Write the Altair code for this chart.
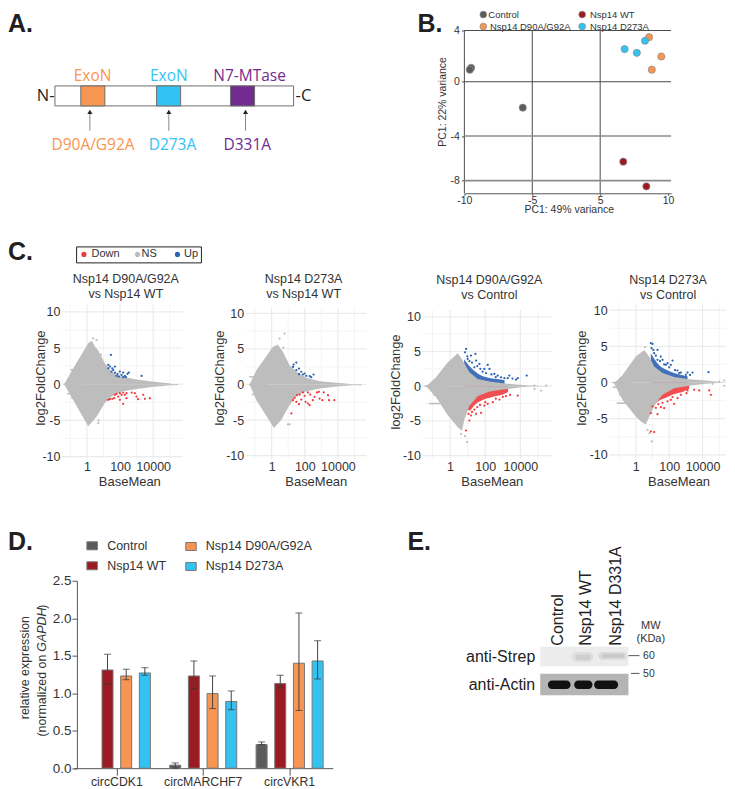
import altair as alt
import pandas as pd

FONT = "Liberation Sans"
INK = "#231f20"
COL = {"Control": "#5b5b5b", "Nsp14 WT": "#9b1b22", "Nsp14 D90A/G92A": "#f79552", "Nsp14 D273A": "#33c3f2"}
PURPLE = "#722b8e"

# ---------- A: domain map (residue positions)
bar_start = [1]
bar_end = [527]
dom_names = ["ExoN", "ExoN", "N7-MTase"]
dom_start = [58, 225, 388]
dom_end = [111, 278, 441]
dom_label_pos = [84, 252, 430]
dom_colors = [COL["Nsp14 D90A/G92A"], COL["Nsp14 D273A"], PURPLE]
mut_names = ["D90A/G92A", "D273A", "D331A"]
mut_pos = [78, 252, 421]
mut_label_pos = [85, 260, 425]

# ---------- B: PCA
pca_group = ["Control"] * 3 + ["Nsp14 WT"] * 2 + ["Nsp14 D90A/G92A"] * 3 + ["Nsp14 D273A"] * 3
pca_pc1 = [-9.5, -9.6, -5.7, 6.7, 8.4, 8.6, 9.5, 8.8, 6.8, 7.7, 8.3]
pca_pc2 = [1.09, 0.94, -1.91, -6.3, -8.5, 3.48, 1.97, 0.94, 2.55, 2.26, 3.2]

# ---------- C: MA plots, values in log10(BaseMean) and log2FoldChange
ma_titles = [
    ["Nsp14 D90A/G92A", "vs Nsp14 WT"], ["Nsp14 D273A", "vs Nsp14 WT"],
    ["Nsp14 D90A/G92A", "vs Control"], ["Nsp14 D273A", "vs Control"],
]
cloud_up = [
    [(-1.37, 0), (-0.82, 2.2), (0.08, 5.65), (0.3, 6.0), (0.48, 5.2), (0.68, 4.7), (1.08, 2.9), (1.5, 1.75), (2.1, 1.05), (2.9, 0.7), (3.9, 0.37), (4.9, 0.14), (5.5, -0.1)],
    [(-1.33, 0), (-0.92, 2.0), (0.08, 5.3), (0.38, 5.6), (0.68, 4.6), (1.08, 2.7), (1.5, 1.8), (2.1, 0.95), (2.9, 0.45), (3.9, 0.25), (4.9, 0.05), (5.4, -0.1)],
    [(-1.36, 0), (-0.8, 1.3), (-0.13, 3.45), (0.44, 4.75), (0.72, 3.7), (1.1, 2.0), (1.57, 1.05), (2.24, 0.67), (3.0, 0.43), (3.94, 0.2), (4.5, 0.1), (5.55, 0)],
    [(-1.3, -0.1), (-0.8, 1.05), (0.0, 3.6), (0.5, 4.5), (0.8, 3.6), (1.1, 2.2), (1.6, 1.3), (2.3, 0.75), (3.2, 0.45), (4.2, 0.28), (5.3, 0)],
]
cloud_low = [
    [(-1.37, 0), (-0.82, -2.2), (0.08, -5.8), (0.58, -4.5), (1.08, -2.6), (1.5, -1.7), (2.1, -1.0), (2.9, -0.7), (3.9, -0.4), (4.9, -0.18), (5.5, -0.1)],
    [(-1.33, 0), (-0.92, -2.2), (0.14, -6.1), (0.58, -5.0), (1.08, -2.9), (1.5, -1.6), (2.1, -0.95), (2.9, -0.55), (3.9, -0.28), (4.9, -0.1), (5.4, -0.1)],
    [(-1.36, 0), (-0.8, -1.6), (-0.13, -4.2), (0.44, -5.9), (0.68, -6.4), (0.8, -4.9), (1.1, -2.8), (1.57, -1.45), (2.24, -0.77), (3.0, -0.48), (3.94, -0.2), (4.5, -0.05), (5.55, 0)],
    [(-1.3, -0.1), (-0.8, -2.4), (0.0, -4.7), (0.3, -5.4), (0.6, -5.8), (0.9, -4.2), (1.2, -2.85), (1.6, -1.7), (2.3, -0.8), (3.2, -0.46), (4.2, -0.18), (5.3, 0)],
]
band_up = [
    [],
    [],
    [(0.8, 3.9), (1.1, 2.9), (1.57, 1.85), (2.24, 1.2), (2.8, 1.0), (3.1, 0.85)],
    [(0.9, 4.0), (1.1, 3.3), (1.4, 2.4), (1.8, 1.8), (2.3, 1.3), (2.8, 1.0), (3.1, 0.85)],
]
band_down = [
    [],
    [],
    [(0.9, -3.0), (1.1, -3.5), (1.4, -2.7), (1.85, -2.0), (2.4, -1.55), (3.0, -1.2), (3.3, -0.85)],
    [(0.95, -3.1), (1.1, -3.0), (1.4, -2.5), (1.8, -2.1), (2.3, -1.6), (2.9, -1.2), (3.2, -0.85)],
]
up_points = [
    [(1.45, 4.05), (1.29, 2.67), (1.39, 2.44), (1.53, 2.2), (1.69, 2.44), (1.59, 1.98), (1.69, 1.61), (1.85, 1.43), (1.99, 1.75), (2.09, 1.29), (2.19, 1.61), (2.29, 1.15), (2.45, 1.43), (2.53, 1.61), (3.3, 1.15), (1.79, 1.15), (1.93, 1.06), (2.19, 0.97), (1.29, 2.2), (1.49, 1.75), (2.35, 0.97)],
    [(1.49, 3.09), (1.33, 2.81), (1.29, 2.48), (1.65, 2.25), (1.49, 2.01), (1.79, 1.78), (1.65, 1.45), (1.89, 1.41), (2.09, 1.22), (2.29, 1.17), (2.53, 1.41), (2.39, 1.03), (1.99, 1.55)],
    [(0.91, 5.37), (0.85, 4.89), (1.19, 4.41), (1.44, 4.65), (1.0, 3.93), (1.48, 3.69), (1.67, 3.21), (2.14, 3.07), (1.38, 2.73), (1.95, 2.49), (2.24, 2.49), (2.52, 1.77), (2.71, 1.53), (3.37, 1.53), (3.28, 1.15), (3.85, 1.15), (4.36, 1.53), (3.75, 0.96), (2.9, 1.29), (3.09, 1.15),
     (0.98, 4.3), (1.1, 3.6), (1.25, 3.4), (1.55, 2.9), (1.72, 2.5), (1.85, 2.1), (2.05, 1.9), (2.35, 1.7), (2.6, 1.3), (3.55, 1.1)],
    [(0.9, 5.43), (1.0, 5.33), (0.94, 4.74), (1.3, 4.5), (1.1, 4.05), (1.5, 3.59), (2.2, 3.03), (1.6, 3.13), (1.9, 2.67), (2.1, 2.44), (1.8, 2.44), (2.5, 1.66), (3.1, 1.38), (3.4, 1.38), (4.36, 1.43), (2.7, 1.38), (3.0, 1.06), (1.3, 3.13),
     (1.05, 4.5), (1.2, 3.7), (1.45, 2.95), (1.7, 2.5), (2.0, 2.1), (2.35, 1.7), (2.6, 1.3), (3.25, 1.05)],
]
down_points = [
    [(1.29, -2.16), (1.39, -2.07), (1.53, -2.02), (1.65, -1.93), (1.69, -1.47), (1.79, -1.33), (1.89, -1.7), (1.99, -1.24), (2.09, -1.47), (2.19, -1.15), (2.29, -1.47), (2.39, -1.24), (2.19, -2.71), (2.7, -1.15), (2.39, -1.93), (2.89, -1.24), (2.99, -1.7), (3.09, -2.07), (3.4, -1.47), (3.5, -2.02), (3.8, -1.93), (1.99, -2.16)],
    [(1.29, -2.2), (1.39, -1.87), (1.53, -1.5), (1.69, -1.41), (1.89, -1.12), (1.49, -2.44), (1.79, -2.11), (1.99, -1.59), (2.19, -1.12), (2.33, -1.41), (2.19, -2.67), (2.05, -2.44), (2.29, -2.9), (1.19, -4.07), (2.59, -1.73), (2.73, -1.12), (2.85, -1.03), (2.89, -1.97), (3.14, -1.12), (3.06, -2.2), (3.4, -1.5), (3.46, -2.2), (3.78, -2.2), (2.49, -2.2), (1.65, -2.76)],
    [(0.91, -6.38), (1.1, -4.94), (1.48, -3.98), (1.76, -3.84), (1.38, -3.36), (1.95, -2.78), (2.81, -1.92), (3.18, -1.44), (3.85, -1.34), (3.41, -1.25), (2.43, -2.3), (2.14, -2.54), (1.19, -4.22),
     (1.05, -4.0), (1.25, -3.7), (1.55, -3.0), (1.7, -2.7), (2.0, -2.3), (2.6, -1.8), (3.0, -1.55)],
    [(0.9, -6.76), (1.1, -6.85), (0.9, -4.23), (1.3, -4.37), (1.7, -3.54), (1.5, -3.4), (2.3, -2.94), (1.0, -3.31), (2.7, -1.7), (3.04, -1.47), (3.5, -1.01), (3.8, -1.1), (4.5, -1.7), (4.4, -1.1), (2.1, -2.39), (2.5, -2.16),
     (1.2, -3.5), (1.35, -3.0), (1.6, -2.8), (1.9, -2.6), (2.2, -2.0), (3.1, -1.1)],
]
stray_points = [
    [(0.38, 6.34), (0.58, 6.11), (0.68, -5.38), (0.85, 4.1), (0.7, -5.0)],
    [(0.78, 7.17), (0.48, 6.46), (0.98, -5.6), (1.09, -5.6), (0.7, 5.2)],
    [(0.97, -8.06), (0.63, -6.86), (0.85, -7.2), (4.8, 0.1), (5.46, 0.1), (4.8, -0.38), (5.18, -0.62)],
    [(0.96, -8.14), (0.7, -6.53), (0.82, -7.0), (0.55, 4.9), (5.0, 0.14), (5.3, 0.28), (5.3, -0.46), (4.6, -0.18)],
]
stubs = [
    [(2.0, -1.0), (0, -1.4), (-1.3, -1.2), (-1.9, -0.95)],
    [(1.08, -1.35), (0, -1.35), (-1.4, -1.2)],
    [(0, -1.45), (-1.25, -0.95), (-2.5, -1.2)],
    [(0, -1.4), (-0.64, -1.4), (-1.7, -1.0), (-2.85, -1.15)],
]
x_major = [1, 100, 10000]
x_minor = [0.1, 10, 1000, 100000]
y_major = [-10, -5, 0, 5, 10]
y_minor = [-7.5, -2.5, 2.5, 7.5]

# ---------- D: bars
bar_gene = ["circCDK1"] * 3 + ["circMARCHF7"] * 4 + ["circVKR1"] * 4
bar_group = ["Nsp14 WT", "Nsp14 D90A/G92A", "Nsp14 D273A",
             "Control", "Nsp14 WT", "Nsp14 D90A/G92A", "Nsp14 D273A",
             "Control", "Nsp14 WT", "Nsp14 D90A/G92A", "Nsp14 D273A"]
bar_value = [1.31, 1.23, 1.27, 0.04, 1.23, 0.995, 0.89, 0.315, 1.13, 1.40, 1.43]
bar_hi = [1.52, 1.32, 1.34, 0.07, 1.43, 1.23, 1.03, 0.35, 1.24, 2.07, 1.70]
bar_lo = [1.12, 1.18, 1.24, 0.0, 1.06, 0.795, 0.78, 0.315, 1.07, 0.77, 1.19]

# ---------- E: blot (membrane fractions)
blot_start = [0, 0, 0.36, 0.66, 0.40, 0.70, 0.087, 0.385, 0.611]
blot_end = [1, 1, 0.60, 0.98, 0.57, 0.95, 0.343, 0.592, 0.883]
blot_top = [0, 0.556, 0.11, 0.11, 0.16, 0.15, 0.698, 0.698, 0.698]
blot_bottom = [0.405, 1, 0.31, 0.27, 0.28, 0.23, 0.869, 0.869, 0.869]
blot_fill = ["#ececec", "#b4b4b4", "#dcdcdc", "#d6d6d6", "#cccccc", "#c6c6c6", "#111111", "#111111", "#111111"]
blot_layer = ["bg", "bg", "soft", "soft", "soft", "soft", "band", "band", "band"]


def txt(s, x, y, size=12, color="#333333", align="left", angle=0, baseline="middle",
        weight="normal", style="normal", font=FONT):
    return alt.Chart(pd.DataFrame({"t": [s]})).mark_text(
        align=align, baseline=baseline, angle=angle, fontSize=size, color=color,
        fontWeight=weight, fontStyle=style, font=font,
    ).encode(x=alt.value(x), y=alt.value(y), text="t:N")


def letter(s, x, y):
    return txt(s, x, y, size=25, color=INK, baseline="alphabetic", weight="bold")


def q(field, scale, axis=None):
    return alt.X(field, type="quantitative", scale=scale, axis=axis, title=None)


def qy(field, scale, axis=None):
    return alt.Y(field, type="quantitative", scale=scale, axis=axis, title=None)


ROW1_H = 232
ROW2_H = 266

# ===== Panel A
sa = alt.Scale(domain=[1, 527], range=[47, 286])
a_bar = alt.Chart(pd.DataFrame({"s": bar_start, "e": bar_end})).mark_rect(
    fill="white", stroke="#6d6d6d", strokeWidth=1
).encode(x=q("s", sa), x2="e:Q", y=alt.value(77.5), y2=alt.value(97.5))
a_df = pd.DataFrame({"n": dom_names, "s": dom_start, "e": dom_end, "l": dom_label_pos, "c": dom_colors})
a_dom = alt.Chart(a_df).mark_rect(stroke="#6d6d6d", strokeWidth=1).encode(
    x=q("s", sa), x2="e:Q", y=alt.value(77.5), y2=alt.value(97.5), fill=alt.Color("c:N", scale=None))
a_dlab = alt.Chart(a_df).mark_text(fontSize=15.5, font="Open Sans").encode(
    x=q("l", sa), y=alt.value(67.5), text="n:N", color=alt.Color("c:N", scale=None))
m_df = pd.DataFrame({"n": mut_names, "p": mut_pos, "l": mut_label_pos, "c": [dom_colors[0], dom_colors[1], PURPLE]})
a_rule = alt.Chart(m_df).mark_rule(color="#8a8a8a", strokeWidth=1).encode(
    x=q("p", sa), y=alt.value(104), y2=alt.value(122.5))
a_tip = alt.Chart(m_df).mark_point(shape="triangle-up", filled=True, size=26, color="#222222", opacity=1).encode(
    x=q("p", sa), y=alt.value(103.5))
a_mlab = alt.Chart(m_df).mark_text(fontSize=15.5, font="Open Sans").encode(
    x=q("l", sa), y=alt.value(137), text="n:N", color=alt.Color("c:N", scale=None))
panel_a = alt.layer(
    a_bar, a_dom, a_dlab, a_rule, a_tip, a_mlab,
    letter("A.", 0, 23),
    txt("N-", 46.5, 87.5, size=16.5, color=INK, align="right", font="Open Sans"),
    txt("-C", 288, 87.5, size=16.5, color=INK, font="Open Sans"),
).properties(width=457, height=ROW1_H)

# ===== Panel B
sbx = alt.Scale(domain=[-10, -5, 5, 10, 10.2], range=[0, 68, 136, 204, 207], zero=False, nice=False)
sby = alt.Scale(domain=[4, 0, -4, -8, -9.1], range=[22, 73.3, 127.7, 172.3, 185], zero=False, nice=False)
pca_x_ticks = [-10, -5, 5, 10]
pca_y_ticks = [4, 0, -4, -8]
b_ax_x = alt.Axis(values=pca_x_ticks, labelExpr="datum.value + ''", grid=False, domainColor="#555555", tickColor="#555555",
                  tickSize=2, labelFontSize=10.5, labelColor="#333333", labelPadding=0, labelFlush=False,
                  offset=185 - ROW1_H)
b_ax_y = alt.Axis(values=pca_y_ticks, labelExpr="datum.value + ''", grid=False, domain=False, tickColor="#555555",
                  tickSize=3, labelFontSize=10.5, labelColor="#333333", labelPadding=2)
b_v = alt.Chart(pd.DataFrame({"v": [-10, -5, 5]})).mark_rule(color="#4a4a4a", strokeWidth=1).encode(
    x=q("v", sbx, b_ax_x), y=alt.value(22), y2=alt.value(185))
b_h = alt.Chart(pd.DataFrame({"v": [4, 0]})).mark_rule(color="#4a4a4a", strokeWidth=1).encode(
    y=qy("v", sby, b_ax_y), x=alt.value(0), x2=alt.value(207))
b_h2 = alt.Chart(pd.DataFrame({"v": [-4, -8]})).mark_rule(color="#8c8c8c", strokeWidth=1.6).encode(
    y=qy("v", sby, b_ax_y), x=alt.value(0), x2=alt.value(207))
pca_df = pd.DataFrame({"g": pca_group, "x": pca_pc1, "y": pca_pc2})
cscale = alt.Scale(domain=list(COL), range=list(COL.values()))
b_pts = alt.Chart(pca_df).mark_circle(size=52, opacity=1, stroke="#8a8a8a", strokeWidth=0.7).encode(
    x=q("x", sbx, b_ax_x), y=qy("y", sby, b_ax_y), fill=alt.Fill("g:N", scale=cscale, legend=None))
b_leg = []
for name, dx, tx, yy in [("Control", 19, 24, 6), ("Nsp14 D90A/G92A", 19, 25.7, 18), ("Nsp14 WT", 118, 125.7, 6), ("Nsp14 D273A", 118, 125.7, 18)]:
    b_leg.append(alt.Chart(pd.DataFrame({"g": [name]})).mark_circle(size=46, opacity=1, stroke="#8a8a8a", strokeWidth=0.7).encode(
        x=alt.value(dx), y=alt.value(yy), fill=alt.Fill("g:N", scale=cscale, legend=None)))
    b_leg.append(txt(name, tx, yy, size=9.5))
panel_b = alt.layer(
    b_v, b_h, b_h2, b_pts, *b_leg,
    letter("B.", -47, 23),
    txt("PC1: 49% variance", 105, 202, size=10.5, align="center"),
    txt("PC1: 22% variance", -21, 93.5, size=10.5, align="center", angle=270),
).properties(width=207, height=ROW1_H)


# ===== Panel C
def rows(pairs, a="lx", b="y"):
    d = pd.DataFrame(pairs, columns=[a, b])
    d["m"] = 10.0 ** d[a]
    return d


C_H = 219
C_GEOM = [  # plot width, x of BaseMean=1, px per decade, y(10), y(-10), grid top, log10 domain end
    (121, 25.0, 16.6, 71.7, 216.7, 64, 5.7),
    (121, 26.0, 16.6, 73.3, 215.7, 68, 5.7),
    (130, 27.7, 17.6, 76.7, 215.7, 70, 5.7),
    (117, 26.7, 16.7, 70.0, 215.0, 63, 5.4),
]
C_LAB = [(-21, 138, 68, 64, 39.3), (-26, 138, 70.7, 58, 39.3), (-26, 142, 70, 67, 40), (-27, 138, 70, 59, 40)]
GREY = "#bdbdbd"
BLUE = "#2b62b2"
RED = "#ee3b3d"


def ma_panel(i, cell_w):
    w, x1, dec, yt, yb, gt, end = C_GEOM[i]
    sx = alt.Scale(type="log", domain=[10 ** -1.5, 10 ** end], range=[x1 - 1.5 * dec, x1 + end * dec], nice=False)
    sy = alt.Scale(domain=[-10, 10], range=[yb, yt], nice=False, zero=False)
    ax_x = alt.Axis(values=x_major, format="d", grid=False, domain=False, ticks=False, labelFontSize=12.5,
                    labelColor="#333333", labelPadding=2, labelFlush=False, offset=C_H - ROW2_H)
    ax_y = alt.Axis(values=y_major, labelExpr="datum.value + ''", grid=False, domain=False, ticks=False,
                    labelFontSize=12.5, labelColor="#333333", labelPadding=2)
    ls = [
        alt.Chart(pd.DataFrame({"v": y_minor})).mark_rule(color="#f4f4f4", strokeWidth=1).encode(
            y=qy("v", sy, ax_y), x=alt.value(0), x2=alt.value(w)),
        alt.Chart(pd.DataFrame({"v": x_minor})).mark_rule(color="#f4f4f4", strokeWidth=1).encode(
            x=q("v", sx, ax_x), y=alt.value(gt), y2=alt.value(C_H)),
        alt.Chart(pd.DataFrame({"v": y_major})).mark_rule(color="#ebebeb", strokeWidth=1.2).encode(
            y=qy("v", sy, ax_y), x=alt.value(0), x2=alt.value(w)),
        alt.Chart(pd.DataFrame({"v": x_major})).mark_rule(color="#ebebeb", strokeWidth=1.2).encode(
            x=q("v", sx, ax_x), y=alt.value(gt), y2=alt.value(C_H)),
    ]
    for src, col in [(band_up[i], BLUE), (band_down[i], RED)]:
        if src:
            ls.append(alt.Chart(rows(src)).mark_area(color=col, opacity=0.9, interpolate="monotone").encode(
                x=q("m", sx, ax_x), y=qy("y", sy, ax_y), y2=alt.Y2Datum(0)))
    for src in (cloud_up[i], cloud_low[i]):
        ls.append(alt.Chart(rows(src)).mark_area(color=GREY, opacity=1).encode(
            x=q("m", sx, ax_x), y=qy("y", sy, ax_y), y2=alt.Y2Datum(0)))
    sdf = pd.DataFrame(stubs[i], columns=["y", "lx"])
    sdf["m"] = 10.0 ** sdf["lx"]
    sdf["m2"] = 10.0 ** -0.3
    ls.append(alt.Chart(sdf).mark_rule(color=GREY, strokeWidth=1.5).encode(
        x=q("m", sx, ax_x), x2="m2:Q", y=qy("y", sy, ax_y)))
    for src, col in [(stray_points[i], GREY), (up_points[i], BLUE), (down_points[i], RED)]:
        ls.append(alt.Chart(rows(src)).mark_circle(size=5, color=col, opacity=1).encode(
            x=q("m", sx, ax_x), y=qy("y", sy, ax_y)))
    tx, ty, bx, cx, cy = C_LAB[i]
    ls += [
        txt("log2FoldChange", tx, ty, size=13, align="center", angle=270),
        txt("BaseMean", bx, 241.7, size=13, align="center"),
        txt(ma_titles[i][0], cx, cy, size=12.5, align="center"),
        txt(ma_titles[i][1], cx, cy + 15, size=12.5, align="center"),
    ]
    if i == 0:
        box = alt.Chart(pd.DataFrame({"a": [0]})).mark_rect(fill="white", stroke="#222222", strokeWidth=1).encode(
            x=alt.value(14.7), x2=alt.value(139.7), y=alt.value(6.7), y2=alt.value(22.7))
        ls.append(box)
        for name, col, dx, tx2 in [("Down", RED, 22, 29.7), ("NS", GREY, 75.7, 79.7), ("Up", BLUE, 115.7, 122.3)]:
            ls.append(alt.Chart(pd.DataFrame({"n": [name]})).mark_circle(size=26, color=col, opacity=1).encode(
                x=alt.value(dx), y=alt.value(14.2)))
            ls.append(txt(name, tx2, 14.2, size=11))
    return alt.layer(*ls).properties(width=cell_w, height=ROW2_H)


spacer_c = letter("C.", 0, 20).properties(width=54, height=ROW2_H)
row2 = alt.hconcat(spacer_c, ma_panel(0, 184), ma_panel(1, 177), ma_panel(2, 187), ma_panel(3, 117),
                   spacing=0, bounds="flush")

# ===== Panel D
D_H = 262.7
genes = ["circCDK1", "circMARCHF7", "circVKR1"]
groups = list(COL)
d_df = pd.DataFrame({"gene": bar_gene, "g": bar_group, "v": bar_value, "hi": bar_hi, "lo": bar_lo})
dx = alt.Scale(domain=genes, range=[-3.25, 256.25], paddingInner=0, paddingOuter=0)
dy = alt.Scale(domain=[0, 2.5], range=[D_H, 75], nice=False)
dxo = alt.Scale(domain=groups, paddingInner=0.41, paddingOuter=0.518)
x_axis = alt.Axis(labelAngle=0, labelFontSize=12.3, labelColor="#333333", tickSize=7, tickColor="#555555",
                  domainColor="#555555", labelPadding=0, ticks=True)
x_enc = alt.X("gene:N", scale=dx, title=None, axis=x_axis)
xo = alt.XOffset("g:N", scale=dxo)
y_axis = alt.Axis(values=[0, 0.5, 1, 1.5, 2, 2.5], format=".1f", grid=False, tickSize=5, tickColor="#555555",
                  domainColor="#555555", labelFontSize=13.5, labelColor="#333333", labelPadding=1)
d_bar = alt.Chart(d_df).mark_bar(stroke="#777777", strokeWidth=1).encode(
    x=x_enc, xOffset=xo, y=alt.Y("v:Q", scale=dy, title=None, axis=y_axis),
    fill=alt.Fill("g:N", scale=cscale, legend=None))
d_err = alt.Chart(d_df).mark_rule(color="#444444", strokeWidth=1).encode(
    x=x_enc, xOffset=xo, y=alt.Y("lo:Q", scale=dy, title=None, axis=y_axis), y2="hi:Q")
d_cap1 = alt.Chart(d_df).mark_tick(color="#333333", thickness=1, size=7, orient="horizontal").encode(
    x=x_enc, xOffset=xo, y=alt.Y("hi:Q", scale=dy, title=None, axis=y_axis))
d_cap2 = alt.Chart(d_df).mark_tick(color="#333333", thickness=1, size=7, orient="horizontal").encode(
    x=x_enc, xOffset=xo, y=alt.Y("lo:Q", scale=dy, title=None, axis=y_axis))
d_leg = []
for name, sx0, tx0, yy in [("Control", 15, 30.3, 40), ("Nsp14 WT", 15, 30.3, 60),
                           ("Nsp14 D90A/G92A", 114, 129, 40.7), ("Nsp14 D273A", 114, 129, 60.7)]:
    d_leg.append(alt.Chart(pd.DataFrame({"g": [name]})).mark_rect(stroke="#777777", strokeWidth=1).encode(
        x=alt.value(sx0 - 5), x2=alt.value(sx0 + 5.5), y=alt.value(yy - 4), y2=alt.value(yy + 4),
        fill=alt.Fill("g:N", scale=cscale, legend=None)))
    d_leg.append(txt(name, tx0, yy, size=12.5))
panel_d = alt.layer(
    d_bar, d_err, d_cap1, d_cap2, *d_leg,
    txt("relative expression", -52, 162, size=12.4, align="center", angle=270),
    txt("(normalized on ", -34.5, 231, size=12.4, align="left", angle=270),
    txt("GAPDH", -34.5, 146, size=12.4, align="left", angle=270, style="italic"),
    txt(")", -34.5, 103, size=12.4, align="left", angle=270),
).properties(width=464, height=D_H)
spacer_d = letter("D.", 0, 44).properties(width=69, height=D_H)

# ===== Panel E
ex = alt.Scale(domain=[0, 1], range=[0, 88.3], nice=False)
ey = alt.Scale(domain=[0, 1], range=[141, 189.7], nice=False)
e_df = pd.DataFrame({"s": blot_start, "e": blot_end, "t": blot_top, "b": blot_bottom, "f": blot_fill, "k": blot_layer})


def blot(kind, **mk):
    return alt.Chart(e_df[e_df.k == kind]).mark_bar(**mk).encode(
        x=q("s", ex), x2="e:Q", y=qy("t", ey), y2="b:Q", fill=alt.Fill("f:N", scale=None))


mw_ticks = alt.Chart(pd.DataFrame({"m": [60, 50], "a": [1.0, 1.03], "b": [1.125, 1.125], "t": [0.185, 0.55]})).mark_rule(
    color="#555555", strokeWidth=1).encode(x=q("a", ex), x2="b:Q", y=qy("t", ey))
panel_e = alt.layer(
    blot("bg"), blot("soft", cornerRadius=4, opacity=0.85), blot("band", cornerRadius=4), mw_ticks,
    letter("E.", -133, 44),
    txt("Control", 18, 140, size=16, align="left", angle=270, color="#222222"),
    txt("Nsp14 WT", 46, 140, size=16, align="left", angle=270, color="#222222"),
    txt("Nsp14 D331A", 75.7, 140, size=16, align="left", angle=270, color="#222222"),
    txt("anti-Strep", -5, 151.5, size=16, align="right", color="#222222"),
    txt("anti-Actin", -5, 179, size=16, align="right", color="#222222"),
    txt("MW", 110.7, 120, size=11, align="center"),
    txt("(KDa)", 110.7, 133, size=11, align="center"),
    txt("60", 103, 150, size=10.5),
    txt("50", 103, 168, size=10.5),
).properties(width=150, height=D_H)

row1 = alt.hconcat(panel_a, panel_b, spacing=0, bounds="flush")
row3 = alt.hconcat(spacer_d, panel_d, panel_e, spacing=0, bounds="flush")

chart = alt.vconcat(row1, row2, row3, spacing=0).properties(
    padding=0, background="white"
).configure(font=FONT).configure_view(stroke=None)

chart.save("out.html", embed_options={"renderer": "svg", "actions": False})
